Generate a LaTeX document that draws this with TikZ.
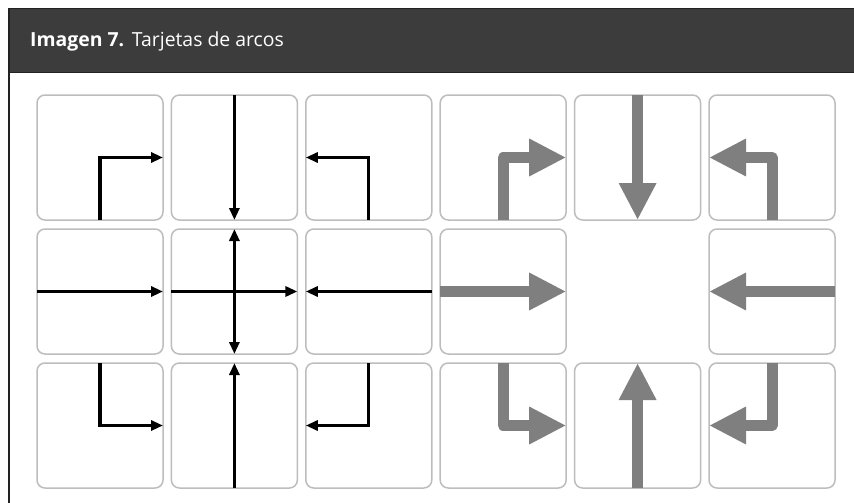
\documentclass[tikz,border=0pt]{standalone}
\usepackage{fontspec}
\setmainfont{Open Sans}
\usetikzlibrary{arrows.meta}
\definecolor{hdr}{HTML}{3C3C3C}
\definecolor{hdredge}{HTML}{222222}
\definecolor{cardedge}{HTML}{BDBDBD}
\definecolor{arrowgray}{HTML}{7F7F7F}
\tikzset{
  card/.style={draw=cardedge, line width=1.5pt, rounded corners=8pt, minimum width=126pt, minimum height=125pt, inner sep=0pt, outer sep=0pt},
  blackarc/.style={draw=black, line width=3.2pt, -{Triangle[length=12pt,width=10pt]}},
  grayarc/.style={draw=arrowgray, line width=11pt, line join=round, -{Triangle[length=37pt,width=35pt]}},
  title/.style={text=white, font=\fontsize{19.4pt}{23pt}\selectfont, anchor=base west, inner sep=0pt}
}
\begin{document}
\begin{tikzpicture}[x=1pt,y=-1pt]
\useasboundingbox (0,0) rectangle (854,503);
\fill[white] (0,0) rectangle (854,503);
% header
\fill[hdr] (8,8) rectangle (854,73);
\draw[hdredge, line width=1.5pt] (8,8.5) -- (854,8.5);
\draw[hdredge, line width=1.5pt] (8,72.5) -- (854,72.5);
\draw[hdredge, line width=2pt] (8.5,8) -- (8.5,503);
\node[title] (t) at (30,47) {\textbf{Imagen 7.}\hspace{0.4em}Tarjetas de arcos};
% cards
\foreach \c in {1,...,6} {
  \foreach \r in {1,2,3} {
    \pgfmathsetmacro{\cx}{37+63+134.4*(\c-1)}
    \pgfmathsetmacro{\cy}{95+62.5+134*(\r-1)}
    \ifnum\c=5 \ifnum\r=2 \else
      \node[card] (c\r\c) at (\cx,\cy) {};
    \fi \else
      \node[card] (c\r\c) at (\cx,\cy) {};
    \fi
  }
}
% black arcs
\draw[blackarc] (c11.south) -- (c11.center) -- (c11.east);
\draw[blackarc] (c12.north) -- (c12.south);
\draw[blackarc] (c13.south) -- (c13.center) -- (c13.west);
\draw[blackarc] (c21.west) -- (c21.east);
\draw[blackarc] (c22.west) -- (c22.east);
\draw[blackarc, {Triangle[length=12pt,width=10pt]}-{Triangle[length=12pt,width=10pt]}] (c22.north) -- (c22.south);
\draw[blackarc] (c23.east) -- (c23.west);
\draw[blackarc] (c31.north) -- (c31.center) -- (c31.east);
\draw[blackarc] (c32.south) -- (c32.north);
\draw[blackarc] (c33.north) -- (c33.center) -- (c33.west);
% gray arcs
\draw[grayarc] (c14.south) -- (c14.center) -- (c14.east);
\draw[grayarc] (c15.north) -- (c15.south);
\draw[grayarc] (c16.south) -- (c16.center) -- (c16.west);
\draw[grayarc] (c24.west) -- (c24.east);
\draw[grayarc] (c26.east) -- (c26.west);
\draw[grayarc] (c34.north) -- (c34.center) -- (c34.east);
\draw[grayarc] (c35.south) -- (c35.north);
\draw[grayarc] (c36.north) -- (c36.center) -- (c36.west);
\end{tikzpicture}
\end{document}
